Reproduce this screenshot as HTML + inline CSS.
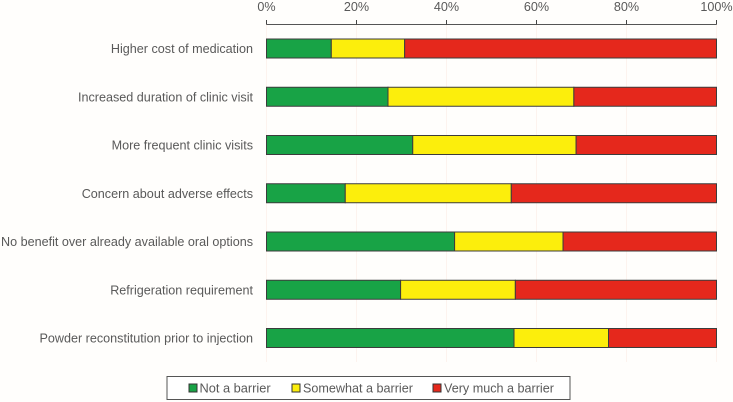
<!DOCTYPE html>
<html><head><meta charset="utf-8"><title>Barriers chart</title>
<style>html,body{margin:0;padding:0;background:#fffefc}svg{display:block}text{font-family:"Liberation Sans",sans-serif;fill:#595959}</style>
</head><body>
<svg id="chart" width="733" height="402" viewBox="0 0 733 402" xmlns="http://www.w3.org/2000/svg"></svg>
<script>
const categories = ["Higher cost of medication","Increased duration of clinic visit","More frequent clinic visits","Concern about adverse effects","No benefit over already available oral options","Refrigeration requirement","Powder reconstitution prior to injection"];
const notABarrier = [14.4,27,32.5,17.5,41.8,29.8,55];
const somewhatABarrier = [16.3,41.3,36.3,36.9,24.1,25.5,21];
const veryMuchABarrier = [69.3,31.7,31.2,45.6,34.1,44.7,24];
const tickValues = [0,20,40,60,80,100];
const seriesColors = ["#18a346","#fcee0c","#e5281c"];
const NS = "http://www.w3.org/2000/svg";
const svg = document.getElementById("chart");
const allSeries = [notABarrier, somewhatABarrier, veryMuchABarrier];
function xPos(v){ return 266.5 + v * 4.5; }
function yCenter(i){ return 48.5 + i * 48.25; }
function add(tag, attrs, text){
  const el = document.createElementNS(NS, tag);
  for (const k in attrs) el.setAttribute(k, attrs[k]);
  if (text !== undefined) el.textContent = text;
  svg.appendChild(el);
  return el;
}
// gridlines
tickValues.forEach(function(t){
  const g = add("line", {x1:xPos(t),x2:xPos(t),y1:24,y2:362,stroke:"#fdf3ee","stroke-width":1});
  
  
});
// axis
const axis = add("line", {x1:xPos(0),x2:xPos(100),y1:24.5,y2:24.5,stroke:"#555","stroke-width":1});


tickValues.forEach(function(t){
  const m = add("line", {x1:xPos(t),x2:xPos(t),y1:20,y2:24.5,stroke:"#444","stroke-width":1});
  
  
  const l = add("text", {x:xPos(t),y:11,"text-anchor":"middle","font-size":12.6}, t + "%");
  
  
});
// rows
categories.forEach(function(c,i){
  const l = add("text", {x:253,y:yCenter(i)+4.5,"text-anchor":"end","font-size":12.6}, c);
  
  
  let cum = 0;
  allSeries.forEach(function(s,j){
    const r = add("rect", {x:xPos(cum),y:yCenter(i)-9.5,width:s[i]*4.5,height:19,fill:seriesColors[j],stroke:"#3c3c3c","stroke-width":1});
    
    
    cum += s[i];
  });
});
</script>
<svg width="733" height="402" viewBox="0 0 733 402" xmlns="http://www.w3.org/2000/svg" style="position:absolute;left:0;top:0">
  <rect x="167" y="376.5" width="403" height="23" fill="#fff" stroke="#555" stroke-width="1"/>
  <rect x="189" y="384" width="8" height="8" fill="#18a346" stroke="#333"/>
  <text x="199.5" y="392.5" font-size="12.8">Not a barrier</text>
  <rect x="292" y="384" width="8" height="8" fill="#fcee0c" stroke="#333"/>
  <text x="303" y="392.5" font-size="12.6">Somewhat a barrier</text>
  <rect x="433" y="384" width="8" height="8" fill="#e5281c" stroke="#333"/>
  <text x="444" y="392.5" font-size="12.6">Very much a barrier</text>
</svg>
</body></html>
